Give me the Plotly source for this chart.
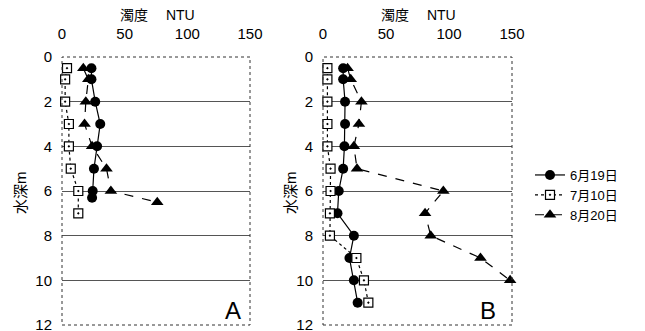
import plotly.graph_objects as go

# Panel A
depth_A1 = [0.5, 1, 2, 3, 4, 5, 6, 6.3]
turb_A1 = [23.5, 23.5, 26.5, 30.5, 28, 25.5, 24.5, 24]
depth_A2 = [0.5, 1, 2, 3, 4, 5, 6, 7]
turb_A2 = [4, 2.5, 2.5, 5.5, 5.5, 7, 13, 13]
depth_A3 = [0.5, 1, 2, 3, 4, 5, 6, 6.5]
turb_A3 = [17, 21, 19, 18, 24, 35.5, 39, 76]

# Panel B
depth_B1 = [0.5, 1, 2, 3, 4, 5, 6, 7, 8, 9, 10, 11]
turb_B1 = [16, 16, 17.5, 17.5, 17, 16, 12.5, 11.5, 24.5, 21, 24.5, 27.5]
depth_B2 = [0.5, 1, 2, 3, 4, 5, 6, 7, 8, 9, 10, 11]
turb_B2 = [3.5, 3.5, 3.5, 3.5, 3.5, 6, 6, 5.5, 5.5, 26.5, 32.5, 36]
depth_B3 = [0.5, 1, 2, 3, 4, 5, 6, 7, 8, 9, 10]
turb_B3 = [19.5, 22, 30.5, 28.5, 24.5, 27, 95.5, 81, 85.5, 125, 148.5]

series_names = ["6月19日", "7月10日", "8月20日"]
x_ticks = [0, 50, 100, 150]
y_ticks = [0, 2, 4, 6, 8, 10, 12]

FONT = "Liberation Sans Narrow, Liberation Sans, Noto Sans CJK JP"
styles = [
    dict(line=dict(color="black", width=1.2, dash="solid"),
         marker=dict(symbol="circle", size=10, color="black")),
    dict(line=dict(color="black", width=1.2, dash="dot"),
         marker=dict(symbol="square-dot", size=9, color="white",
                     line=dict(color="black", width=1.2))),
    dict(line=dict(color="black", width=1.2, dash="dash"),
         marker=dict(symbol="triangle-up", size=11, color="black")),
]

fig = go.Figure()
panels = [
    ("x", "y", [(turb_A1, depth_A1), (turb_A2, depth_A2), (turb_A3, depth_A3)], False),
    ("x2", "y2", [(turb_B1, depth_B1), (turb_B2, depth_B2), (turb_B3, depth_B3)], True),
]
for xa, ya, data, show in panels:
    for i, (xs, ys) in enumerate(data):
        fig.add_trace(go.Scatter(x=xs, y=ys, mode="lines+markers", name=series_names[i],
                                 xaxis=xa, yaxis=ya, showlegend=show, cliponaxis=False,
                                 legendgroup=series_names[i], **styles[i]))

W, H = 645, 331
ax_common = dict(range=[0, 150], tickvals=x_ticks, side="top", showgrid=False,
                 zeroline=False, showline=False, ticks="", ticklabelstandoff=14,
                 ticklabeloverflow="allow", automargin=False,
                 tickfont=dict(family=FONT, size=15, color="black"))
ay_common = dict(range=[12, 0], tickvals=y_ticks, showgrid=True, gridcolor="#555", gridwidth=1,
                 zeroline=False, showline=False, ticks="", ticklabelstandoff=9,
                 ticklabeloverflow="allow", automargin=False,
                 tickfont=dict(family=FONT, size=15, color="black"))

yd = [1 - 325 / H, 1 - 57 / H]
fig.update_layout(
    width=W, height=H, margin=dict(l=0, r=0, t=0, b=0, autoexpand=False),
    plot_bgcolor="white", paper_bgcolor="white",
    xaxis=dict(domain=[62 / W, 250 / W], anchor="y", **ax_common),
    yaxis=dict(domain=yd, anchor="x", **ay_common),
    xaxis2=dict(domain=[323 / W, 512 / W], anchor="y2", **ax_common),
    yaxis2=dict(domain=yd, anchor="x2", **ay_common),
    legend=dict(x=530 / W, y=1 - 160 / H, xanchor="left", yanchor="top",
                font=dict(family=FONT, size=13, color="black"),
                bgcolor="rgba(0,0,0,0)", tracegroupgap=0),
    showlegend=True,
)

# dotted frames
for xref, yref in [("x", "y"), ("x2", "y2")]:
    fig.add_shape(type="rect", xref=xref + " domain", yref=yref + " domain",
                  x0=0, x1=1, y0=0, y1=1, line=dict(color="#333", width=1, dash="dot"))

annots = [
    dict(x=157 / W, y=1 - 15 / H, text="濁度　 NTU", size=14),
    dict(x=418 / W, y=1 - 15 / H, text="濁度　 NTU", size=14),
    dict(x=233 / W, y=1 - 310 / H, text="A", size=24),
    dict(x=488 / W, y=1 - 310 / H, text="B", size=24),
]
for a in annots:
    fig.add_annotation(x=a["x"], y=a["y"], xref="paper", yref="paper", text=a["text"],
                       showarrow=False, xanchor="center", yanchor="middle",
                       font=dict(family=FONT, size=a["size"], color="black"))
for xp in [20, 290]:
    fig.add_annotation(x=xp / W, y=1 - 193 / H, xref="paper", yref="paper", text="水深m",
                       showarrow=False, textangle=-90, xanchor="center", yanchor="middle",
                       font=dict(family=FONT, size=15, color="black"))

fig.write_html("out.html")
